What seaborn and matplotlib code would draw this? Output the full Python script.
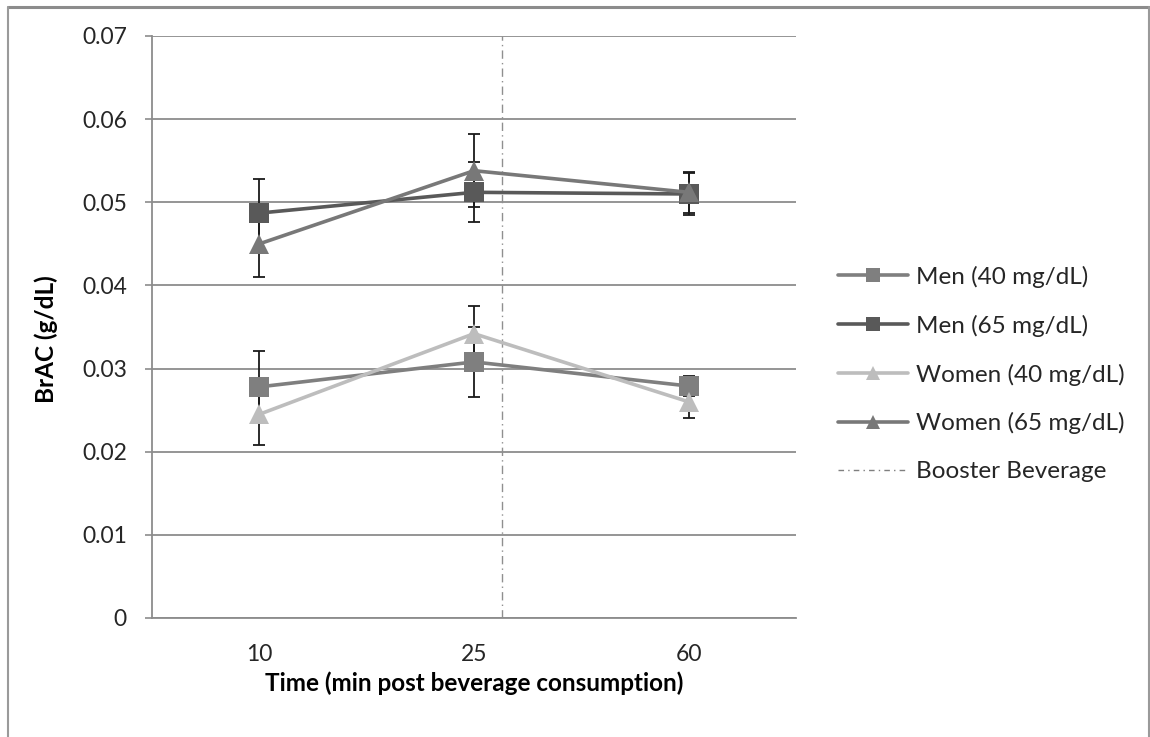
# -*- coding: utf-8 -*-
"""
BrAC over time after beverage consumption, men vs women, two doses.
"""

# %% imports

import numpy as np
import matplotlib.pyplot as plt
from matplotlib.lines import Line2D
from matplotlib.ticker import FixedLocator, FuncFormatter
import seaborn as sns

# %% data

times = ["10", "25", "60"]

men_40 = [0.0278, 0.0308, 0.0279]
men_40_err = [0.0043, 0.0042, 0.0012]

men_65 = [0.0487, 0.0512, 0.0510]
men_65_err = [0.0041, 0.0036, 0.0025]

women_40 = [0.0245, 0.0342, 0.0260]
women_40_err = [0.0037, 0.0033, 0.0019]

women_65 = [0.0450, 0.0538, 0.0512]
women_65_err = [0.0040, 0.0044, 0.0025]

# booster beverage, in category units (just after the 25 min sample)
booster_pos = 1.13

series = [
    ("Men (40 mg/dL)", men_40, men_40_err, "#7f7f7f", "s"),
    ("Men (65 mg/dL)", men_65, men_65_err, "#595959", "s"),
    ("Women (40 mg/dL)", women_40, women_40_err, "#bdbdbd", "^"),
    ("Women (65 mg/dL)", women_65, women_65_err, "#787878", "^"),
]

# %% config

sns.set_style("white")
plt.rcParams['font.family'] = ['Lato', 'DejaVu Sans']
plt.rcParams['text.color'] = '#262626'
plt.rcParams['axes.labelcolor'] = '#000000'

W, H = 1150, 737
fig = plt.figure(figsize=(W / 100, H / 100), dpi=100)
ax = fig.add_axes([152 / W, 1 - 618 / H, (796 - 152) / W, (618 - 36) / H])

# %% plot

x = np.arange(len(times))

for name, vals, err, col, mk in series:
    ax.errorbar(x, vals, yerr=err, fmt='none', ecolor='#1a1a1a', elinewidth=1.3,
                capsize=4.3, capthick=1.3, zorder=3)
    sns.lineplot(x=x, y=vals, color=col, marker=mk, linewidth=2.6,
                 markersize=15 if mk == "s" else 14, markeredgewidth=0,
                 ax=ax, zorder=4)

ax.axvline(booster_pos, color='#8f8f8f', linewidth=1.0,
           linestyle=(0, (6, 3, 1, 3)), zorder=2)

# %% axes styling

ax.set_xlim(-0.5, len(times) - 0.5)
ax.set_ylim(0, 0.07)

yt = np.arange(0, 0.0701, 0.01)
ax.yaxis.set_major_locator(FixedLocator(yt))
ax.yaxis.set_major_formatter(FuncFormatter(lambda v, p: f"{v:.2f}".rstrip('0').rstrip('.') if v > 0 else "0"))
ax.grid(axis='y', color='#8c8c8c', linewidth=1.3)
ax.grid(axis='x', visible=False)
ax.set_axisbelow(True)

ax.set_xticks(x)
ax.set_xticklabels(times)
ax.set_xticks(np.arange(-0.5, len(times)), minor=True)
ax.tick_params(axis='x', which='major', length=0, pad=19, labelsize=16.5, colors='#262626')
ax.tick_params(axis='x', which='minor', length=7, width=1.2, color='#8c8c8c', direction='out')
ax.tick_params(axis='y', length=5, width=1.2, color='#8c8c8c', pad=13, labelsize=16.5,
               labelcolor='#262626', left=True)

for s in ['top', 'right']:
    ax.spines[s].set_visible(False)
for s in ['left', 'bottom']:
    ax.spines[s].set_color('#8c8c8c')
    ax.spines[s].set_linewidth(1.3)

ax.set_xlabel("Time (min post beverage consumption)", fontsize=17.5, fontweight='bold')
ax.set_ylabel("BrAC (g/dL)", fontsize=17.5, fontweight='bold')
# place the axis titles where the Excel chart has them
ax.xaxis.set_label_coords(0.5, (618 - 671) / (618 - 36))
ax.yaxis.set_label_coords((58 - 152) / (796 - 152), 0.48)

# %% legend

handles = []
for name, vals, err, col, mk in series:
    handles.append(Line2D([], [], color=col, marker=mk, linewidth=2.6, markersize=10,
                          markeredgewidth=0, label=name))
handles.append(Line2D([], [], color='#7f7f7f', linewidth=1.0,
                      linestyle=(0, (4, 3, 1, 3)), label="Booster Beverage"))

fig.legend(handles=handles, loc='center left', bbox_to_anchor=(838 / W, 1 - 374 / H),
           frameon=False, fontsize=17.5, handlelength=2.9, handletextpad=0.3,
           labelspacing=1.1, borderpad=0, borderaxespad=0)

# chart area border (Excel style)
fig.add_artist(Line2D([8 / W, 1149 / W], [1 - 7 / H, 1 - 7 / H], color='#8c8c8c', linewidth=2.2))
fig.add_artist(Line2D([8 / W, 8 / W], [0, 1 - 7 / H], color='#9a9a9a', linewidth=1.5))
fig.add_artist(Line2D([1149 / W, 1149 / W], [0, 1 - 7 / H], color='#9a9a9a', linewidth=1.5))

plt.savefig("out.png", dpi=100)
